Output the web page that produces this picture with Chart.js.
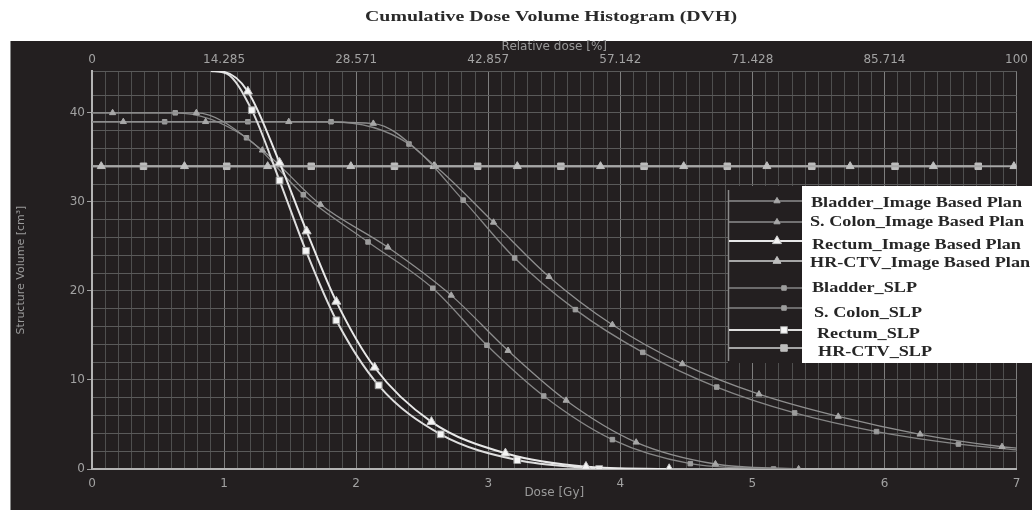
<!DOCTYPE html>
<html>
<head>
<meta charset="utf-8">
<title>Cumulative Dose Volume Histogram (DVH)</title>
<script src="https://cdn.jsdelivr.net/npm/chart.js@4.4.1/dist/chart.umd.min.js"></script>
<style>
  html, body { margin: 0; padding: 0; background: #fff; }
  #wrap { width: 1032px; height: 510px; }
</style>
</head>
<body>
<div id="wrap"><canvas id="dvh" width="1032" height="510"></canvas></div>
<script>
// top axis labels (relative dose, %), one per Gy
const relDoseLabels = ['0', '14.285', '28.571', '42.857', '57.142', '71.428', '85.714', '100'];

const legendNames = [
    'Bladder_Image Based Plan', 'S. Colon_Image Based Plan', 'Rectum_Image Based Plan', 'HR-CTV_Image Based Plan',
    'Bladder_SLP', 'S. Colon_SLP', 'Rectum_SLP', 'HR-CTV_SLP'
];

// dose (Gy) / volume (cm3), one entry per marker
// (first entries of each list are lead-in points without a marker)
const bladderIbpDose = [0, 0.237, 0.86, 1.49, 2.13, 2.60, 3.04, 3.46, 3.94, 4.47, 5.05, 5.65, 6.27, 6.89, 7.0];
const bladderIbpVol  = [39.0, 39.0, 39.0, 39.0, 38.8, 34.0, 27.7, 21.6, 16.2, 11.8, 8.4, 5.9, 3.9, 2.5, 2.35];

const colonIbpDose = [0, 0.156, 0.79, 1.29, 1.73, 2.24, 2.72, 3.15, 3.59, 4.12, 4.72, 5.35];
const colonIbpVol  = [40.0, 40.0, 40.0, 35.8, 29.7, 24.9, 19.5, 13.3, 7.7, 3.0, 0.56, 0];

const rectumIbpDose = [0.9, 1.0, 1.18, 1.42, 1.625, 1.85, 2.14, 2.57, 3.13, 3.74, 4.37];
const rectumIbpVol  = [44.7, 44.6, 42.4, 34.4, 26.7, 18.8, 11.4, 5.3, 1.76, 0.26, 0];

const ctvIbpDose = [0, 0.07, 0.70, 1.33, 1.96, 2.59, 3.22, 3.85, 4.48, 5.11, 5.74, 6.37, 6.98, 7.0];
const ctvIbpVol  = [34.0, 34.0, 34.0, 34.0, 34.0, 34.0, 34.0, 34.0, 34.0, 34.0, 34.0, 34.0, 34.0, 34.0];

const bladderSlpDose = [0, 0.55, 1.18, 1.81, 2.40, 2.81, 3.20, 3.66, 4.17, 4.73, 5.32, 5.94, 6.56, 7.0];
const bladderSlpVol  = [39.0, 39.0, 39.0, 39.0, 36.5, 30.2, 23.7, 17.9, 13.1, 9.2, 6.3, 4.2, 2.8, 2.15];

const colonSlpDose = [0, 0.63, 1.17, 1.60, 2.09, 2.58, 2.99, 3.42, 3.94, 4.53, 5.16];
const colonSlpVol  = [40.0, 40.0, 37.2, 30.8, 25.5, 20.3, 13.9, 8.2, 3.3, 0.6, 0];

const rectumSlpDose = [0.9, 1.02, 1.21, 1.42, 1.62, 1.85, 2.17, 2.64, 3.22, 3.84];
const rectumSlpVol  = [44.7, 44.4, 40.3, 32.4, 24.5, 16.7, 9.4, 3.9, 1.0, 0];

const ctvSlpDose = [0, 0.39, 1.02, 1.66, 2.29, 2.92, 3.55, 4.18, 4.81, 5.45, 6.08, 6.71];
const ctvSlpVol  = [34.0, 34.0, 34.0, 34.0, 34.0, 34.0, 34.0, 34.0, 34.0, 34.0, 34.0, 34.0];

const DOSE_MAX = 7;
const VOL_MAX = 44.7;
const PANEL = '#231f20';

const styles = {
    rectumTri: { line: '#e8e8e8', width: 2, marker: 'triangle', radius: 5.2, fill: '#f4f4f4', edge: '#c8c8c8' },
    rectumSq:  { line: '#dedede', width: 2, marker: 'rect', radius: 4.8, fill: '#f6f6f6', edge: '#9c9c9c' },
    pairTri:   { line: '#8e8e8e', width: 1.3, marker: 'triangle', radius: 3.6, fill: '#a8a8a8', edge: '#a8a8a8' },
    pairSq:    { line: '#868686', width: 1.3, marker: 'rect', radius: 3.2, fill: '#9c9c9c', edge: '#9c9c9c' },
    ctvTri:    { line: '#a6a6a6', width: 2, marker: 'triangle', radius: 4.6, fill: '#bfbfbf', edge: '#bfbfbf' },
    ctvSq:     { line: '#a6a6a6', width: 2, marker: 'rect', radius: 4.6, fill: '#bdbdbd', edge: '#bdbdbd' }
};

function curve(label, dose, vol, lead, st) {
    return {
        label: label,
        data: dose.map(function (d, i) { return { x: d, y: vol[i] }; }),
        showLine: true,
        borderColor: st.line,
        borderWidth: st.width,
        pointStyle: st.marker,
        pointRadius: function (ctx) {
            if (ctx.dataIndex < lead || (ctx.raw && ctx.raw.x >= DOSE_MAX)) return 0;
            return st.radius;
        },
        pointBackgroundColor: st.fill,
        pointBorderColor: st.edge,
        pointBorderWidth: 1,
        cubicInterpolationMode: 'monotone',
        st: st
    };
}

// drawn on top first
const datasets = [
    curve(legendNames[2], rectumIbpDose, rectumIbpVol, 2, styles.rectumTri),
    curve(legendNames[6], rectumSlpDose, rectumSlpVol, 2, styles.rectumSq),
    curve(legendNames[0], bladderIbpDose, bladderIbpVol, 1, styles.pairTri),
    curve(legendNames[4], bladderSlpDose, bladderSlpVol, 1, styles.pairSq),
    curve(legendNames[1], colonIbpDose, colonIbpVol, 1, styles.pairTri),
    curve(legendNames[5], colonSlpDose, colonSlpVol, 1, styles.pairSq),
    curve(legendNames[3], ctvIbpDose, ctvIbpVol, 1, styles.ctvTri),
    curve(legendNames[7], ctvSlpDose, ctvSlpVol, 1, styles.ctvSq)
];

function isWhole(v) { return Math.abs(v - Math.round(v)) < 1e-6; }

const panelPlugin = {
    id: 'panel',
    beforeDraw: function (chart) {
        const ctx = chart.ctx;
        ctx.save();
        ctx.fillStyle = '#ffffff';
        ctx.fillRect(0, 0, chart.width, chart.height);
        ctx.fillStyle = PANEL;
        ctx.fillRect(10, 41, chart.width - 10, chart.height - 41);
        ctx.strokeStyle = '#8a8a8a';
        ctx.lineWidth = 1;
        ctx.beginPath();
        ctx.moveTo(10.5, 41);
        ctx.lineTo(10.5, chart.height);
        ctx.stroke();

        // title, serif bold stretched like the source
        const title = 'Cumulative Dose Volume Histogram (DVH)';
        ctx.font = 'bold 15px "Liberation Serif", "Times New Roman", serif';
        ctx.fillStyle = '#2a2a2a';
        ctx.textBaseline = 'middle';
        const w = ctx.measureText(title).width;
        const sx = 372 / w;
        ctx.translate(551 - 186, 17);
        ctx.scale(sx, 1);
        ctx.fillText(title, 0, 0);
        ctx.restore();
    }
};

const legendPlugin = {
    id: 'dvhLegend',
    afterDraw: function (chart) {
        const ctx = chart.ctx;
        const rows = [
            { ds: 2, y: 201, ty: 203, tx: 811 },
            { ds: 4, y: 222, ty: 222, tx: 810 },
            { ds: 0, y: 241, ty: 245, tx: 812 },
            { ds: 6, y: 261, ty: 263, tx: 810 },
            { ds: 3, y: 288, ty: 288, tx: 812 },
            { ds: 5, y: 308, ty: 313, tx: 814 },
            { ds: 1, y: 330, ty: 334, tx: 817 },
            { ds: 7, y: 348, ty: 352, tx: 818 }
        ];
        ctx.save();
        // line samples on the dark side
        ctx.fillStyle = PANEL;
        ctx.fillRect(728, 186, 74, 177);
        ctx.strokeStyle = '#8a8a8a';
        ctx.lineWidth = 1.5;
        ctx.beginPath();
        ctx.moveTo(728.5, 190);
        ctx.lineTo(728.5, 361);
        ctx.stroke();
        rows.forEach(function (r) {
            const st = datasets[r.ds].st;
            ctx.strokeStyle = st.line;
            ctx.lineWidth = st.width;
            ctx.beginPath();
            ctx.moveTo(729, r.y);
            ctx.lineTo(802, r.y);
            ctx.stroke();
            ctx.fillStyle = st.fill;
            ctx.strokeStyle = st.edge;
            ctx.lineWidth = 1;
            const mx = st.marker === 'triangle' ? 777 : 784;
            Chart.helpers.drawPoint(ctx, { pointStyle: st.marker, radius: st.radius, borderWidth: 1, rotation: 0 }, mx, r.y);
        });
        // white label box
        ctx.fillStyle = '#ffffff';
        ctx.fillRect(802, 186, chart.width - 802, 177);
        ctx.font = 'bold 14px "Liberation Serif", "Times New Roman", serif';
        ctx.fillStyle = '#262626';
        ctx.textBaseline = 'middle';
        const sx = 211 / ctx.measureText(legendNames[0]).width;
        rows.forEach(function (r, i) {
            ctx.save();
            ctx.translate(r.tx, r.ty);
            ctx.scale(sx, 1);
            ctx.fillText(legendNames[i], 0, 0);
            ctx.restore();
        });
        ctx.restore();
    }
};

const tickFont = { family: '"DejaVu Sans", Verdana, sans-serif', size: 12 };
const tickColor = '#a2a2a2';

new Chart(document.getElementById('dvh').getContext('2d'), {
    type: 'scatter',
    data: { datasets: datasets },
    plugins: [panelPlugin, legendPlugin],
    options: {
        responsive: false,
        animation: false,
        events: [],
        layout: { padding: { left: 0, right: 13, top: 0, bottom: 0 } },
        plugins: {
            legend: { display: false },
            tooltip: { enabled: false },
            title: { display: false }
        },
        scales: {
            x: {
                type: 'linear',
                position: 'bottom',
                min: 0,
                max: DOSE_MAX,
                afterFit: function (s) { s.height = 41; },
                ticks: {
                    stepSize: 0.1,
                    autoSkip: false,
                    maxRotation: 0,
                    padding: 8,
                    color: tickColor,
                    font: tickFont,
                    callback: function (v) { return isWhole(v) ? String(Math.round(v)) : ''; }
                },
                grid: {
                    drawTicks: false,
                    lineWidth: 1,
                    color: function (ctx) {
                        return ctx.tick && isWhole(ctx.tick.value) ? '#7e7e7e' : '#4f4f4f';
                    }
                },
                border: { display: true, color: '#b4b4b4', width: 2 },
                title: {
                    display: true,
                    text: 'Dose [Gy]',
                    color: '#9a9a9a',
                    font: tickFont,
                    padding: { top: 0, bottom: 10 }
                }
            },
            x2: {
                type: 'linear',
                position: 'top',
                min: 0,
                max: DOSE_MAX,
                afterFit: function (s) { s.height = 71; },
                ticks: {
                    stepSize: 1,
                    autoSkip: false,
                    maxRotation: 0,
                    padding: 4,
                    color: tickColor,
                    font: tickFont,
                    callback: function (v) { return relDoseLabels[Math.round(v)]; }
                },
                grid: { display: false, drawTicks: false },
                border: { display: false },
                title: {
                    display: true,
                    text: 'Relative dose [%]',
                    color: '#9a9a9a',
                    font: tickFont,
                    padding: { top: 40, bottom: 0 }
                }
            },
            y: {
                type: 'linear',
                position: 'left',
                min: 0,
                max: VOL_MAX,
                afterFit: function (s) { s.width = 92; },
                ticks: {
                    stepSize: 2,
                    autoSkip: false,
                    padding: 2,
                    color: tickColor,
                    font: tickFont,
                    callback: function (v) { return (v % 10 === 0) ? String(v) : ''; }
                },
                grid: {
                    tickLength: 5,
                    lineWidth: 1,
                    color: '#5a5a5a',
                    tickColor: function (ctx) {
                        return ctx.tick && ctx.tick.value % 10 === 0 ? '#a0a0a0' : 'rgba(0,0,0,0)';
                    }
                },
                border: { display: true, color: '#b4b4b4', width: 2 },
                title: {
                    display: true,
                    text: 'Structure Volume [cm³]',
                    color: '#9a9a9a',
                    font: { family: '"DejaVu Sans", Verdana, sans-serif', size: 11 },
                    padding: { top: 15, bottom: 0 }
                }
            }
        }
    }
});
</script>
</body>
</html>
